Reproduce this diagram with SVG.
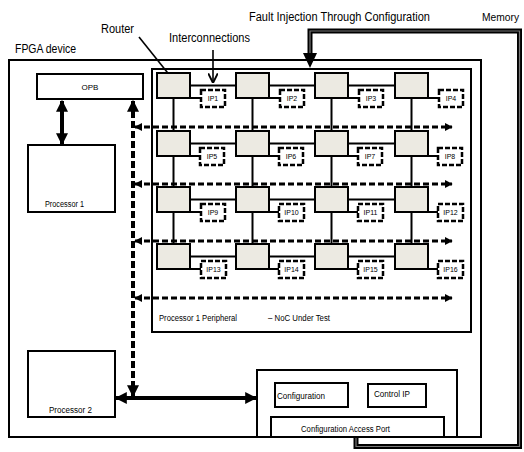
<svg xmlns="http://www.w3.org/2000/svg" width="524" height="452" viewBox="0 0 524 452">
<defs>
<style>
text{font-family:"Liberation Sans",Arial,sans-serif;fill:#000}
.box{fill:#fff;stroke:#000;stroke-width:2}
.rt{fill:#ECEAE2;stroke:#000;stroke-width:2}
.ip{fill:#fff;stroke:#000;stroke-width:2.5;stroke-dasharray:5 2}
.ipt{font-size:7px;text-anchor:middle;fill:#000}
.wire{stroke:#000;stroke-width:2;fill:none}
.thick{stroke:#000;stroke-width:4;fill:none}
.dash{stroke:#000;stroke-width:3;stroke-dasharray:6 3;fill:none}
.vdash{stroke:#000;stroke-width:4;stroke-dasharray:7 3;fill:none}
.sm{font-size:8.5px}
</style>
<marker id="ah" viewBox="0 0 10 10" refX="9" refY="5" markerWidth="3" markerHeight="3" orient="auto-start-reverse" markerUnits="strokeWidth"><path d="M0,0 L10,5 L0,10 z" fill="#000"/></marker>
<marker id="ahd" viewBox="0 0 10 10" refX="9" refY="5" markerWidth="2.6" markerHeight="2.6" orient="auto-start-reverse" markerUnits="strokeWidth"><path d="M0,0 L10,5 L0,10 z" fill="#000"/></marker>
<marker id="ahthin" viewBox="0 0 10 10" refX="9" refY="5" markerWidth="6" markerHeight="6" orient="auto" markerUnits="strokeWidth"><path d="M0,0 L10,5 L0,10" fill="none" stroke="#000" stroke-width="2"/></marker>
</defs>
<rect width="524" height="452" fill="#fff"/>

<!-- titles -->
<text x="15" y="53" font-size="13" textLength="61" lengthAdjust="spacingAndGlyphs">FPGA device</text>
<text x="101" y="33" font-size="12" textLength="33" lengthAdjust="spacingAndGlyphs">Router</text>
<text x="169" y="42" font-size="12" textLength="81" lengthAdjust="spacingAndGlyphs">Interconnections</text>
<text x="249" y="21" font-size="12" textLength="181" lengthAdjust="spacingAndGlyphs">Fault Injection Through Configuration</text>
<text x="482" y="21" font-size="11.5" textLength="37" lengthAdjust="spacingAndGlyphs">Memory</text>

<!-- FPGA device -->
<g id="fpga"><rect x="9" y="60" width="472" height="377" class="box"/></g>
<!-- NoC box -->
<g id="noc"><rect x="152" y="69" width="319" height="263" class="box" stroke-width="1.8"/>
<text x="159" y="321" class="sm" textLength="78" lengthAdjust="spacingAndGlyphs">Processor 1 Peripheral</text>
<text x="268" y="321" class="sm" textLength="62" lengthAdjust="spacingAndGlyphs">– NoC Under Test</text>
</g>

<g id="connectors">
<!-- router mesh -->
<line x1="190" y1="85.5" x2="395" y2="85.5" class="wire"/>
<line x1="190" y1="143.5" x2="395" y2="143.5" class="wire"/>
<line x1="190" y1="199.5" x2="395" y2="199.5" class="wire"/>
<line x1="190" y1="256.5" x2="395" y2="256.5" class="wire"/>
<line x1="173.5" y1="98" x2="173.5" y2="244" class="wire"/>
<line x1="252.5" y1="98" x2="252.5" y2="244" class="wire"/>
<line x1="331.5" y1="98" x2="331.5" y2="244" class="wire"/>
<line x1="411.5" y1="98" x2="411.5" y2="244" class="wire"/>
<!-- router-IP links -->
<path class="wire" d="M190,98H201 M269,98H280 M348,98H359 M428,98H439 M190,156H201 M269,156H280 M348,156H359 M428,156H439 M190,212H201 M269,212H280 M348,212H359 M428,212H439 M190,269H201 M269,269H280 M348,269H359 M428,269H439"/>
<!-- dashed buses -->
<line x1="135" y1="127" x2="452" y2="127" class="dash" marker-start="url(#ahd)" marker-end="url(#ahd)"/>
<line x1="135" y1="184" x2="452" y2="184" class="dash" marker-start="url(#ahd)" marker-end="url(#ahd)"/>
<line x1="135" y1="241" x2="452" y2="241" class="dash" marker-start="url(#ahd)" marker-end="url(#ahd)"/>
<line x1="135" y1="298" x2="452" y2="298" class="dash" marker-start="url(#ahd)" marker-end="url(#ahd)"/>
<line x1="133" y1="101" x2="133" y2="396" class="vdash" marker-start="url(#ah)" marker-end="url(#ah)"/>
<!-- OPB - Processor 1 -->
<line x1="62" y1="101" x2="62" y2="144" class="thick" marker-start="url(#ah)" marker-end="url(#ah)"/>
<!-- Processor 2 - Config -->
<line x1="116" y1="398" x2="256" y2="398" class="thick" marker-start="url(#ah)" marker-end="url(#ah)"/>
<!-- annotation arrows -->
<line x1="139" y1="37" x2="175" y2="82" stroke="#000" stroke-width="1.6" marker-end="url(#ahthin)"/>
<line x1="213" y1="50" x2="213" y2="82" stroke="#000" stroke-width="1.6" marker-end="url(#ahthin)"/>
<!-- memory loop -->
<path d="M356,437 V446.5 H519.5 V31 H310 V56" fill="none" stroke="#000" stroke-width="5"/>
<path d="M356,437 V446.5 H519.5 V31 H310 V56" fill="none" stroke="#777" stroke-width="1.2"/>
<path d="M303,53 L317,53 L310,68 z" fill="#000"/>
</g>

<g id="opb"><rect x="37" y="74" width="106" height="25" class="box"/><text x="90" y="90" font-size="8" text-anchor="middle">OPB</text></g>
<g id="processor1"><rect x="28" y="145" width="87" height="67" class="box"/><text x="45" y="207" class="sm" textLength="39" lengthAdjust="spacingAndGlyphs">Processor 1</text></g>
<g id="processor2"><rect x="28" y="351" width="87" height="66" class="box"/><text x="49" y="413" class="sm" textLength="43" lengthAdjust="spacingAndGlyphs">Processor 2</text></g>

<g id="config-region"><rect x="257" y="370" width="200" height="67" class="box" stroke-width="1.8"/></g>
<g id="configuration"><rect x="275" y="383" width="73" height="24" class="box"/><text x="277" y="399" class="sm" textLength="48" lengthAdjust="spacingAndGlyphs">Configuration</text></g>
<g id="control-ip"><rect x="368" y="384" width="58" height="23" class="box"/><text x="374" y="397" class="sm" textLength="36" lengthAdjust="spacingAndGlyphs">Control IP</text></g>
<g id="cap"><rect x="271" y="417" width="173" height="20" class="box"/><text x="301" y="432" class="sm" textLength="89" lengthAdjust="spacingAndGlyphs">Configuration Access Port</text></g>

<!-- routers -->
<g id="r1"><rect x="157" y="73" width="33" height="25" class="rt"/></g>
<g id="r2"><rect x="236" y="73" width="33" height="25" class="rt"/></g>
<g id="r3"><rect x="315" y="73" width="33" height="25" class="rt"/></g>
<g id="r4"><rect x="395" y="73" width="33" height="25" class="rt"/></g>
<g id="r5"><rect x="157" y="131" width="33" height="25" class="rt"/></g>
<g id="r6"><rect x="236" y="131" width="33" height="25" class="rt"/></g>
<g id="r7"><rect x="315" y="131" width="33" height="25" class="rt"/></g>
<g id="r8"><rect x="395" y="131" width="33" height="25" class="rt"/></g>
<g id="r9"><rect x="157" y="187" width="33" height="25" class="rt"/></g>
<g id="r10"><rect x="236" y="187" width="33" height="25" class="rt"/></g>
<g id="r11"><rect x="315" y="187" width="33" height="25" class="rt"/></g>
<g id="r12"><rect x="395" y="187" width="33" height="25" class="rt"/></g>
<g id="r13"><rect x="157" y="244" width="33" height="25" class="rt"/></g>
<g id="r14"><rect x="236" y="244" width="33" height="25" class="rt"/></g>
<g id="r15"><rect x="315" y="244" width="33" height="25" class="rt"/></g>
<g id="r16"><rect x="395" y="244" width="33" height="25" class="rt"/></g>

<!-- IPs -->
<g id="ip1"><rect x="201" y="90" width="24" height="17" class="ip"/><text x="213" y="101" class="ipt">IP1</text></g>
<g id="ip2"><rect x="280" y="90" width="24" height="17" class="ip"/><text x="292" y="101" class="ipt">IP2</text></g>
<g id="ip3"><rect x="359" y="90" width="24" height="17" class="ip"/><text x="371" y="101" class="ipt">IP3</text></g>
<g id="ip4"><rect x="439" y="90" width="24" height="17" class="ip"/><text x="451" y="101" class="ipt">IP4</text></g>
<g id="ip5"><rect x="200" y="148" width="24" height="17" class="ip"/><text x="212" y="159" class="ipt">IP5</text></g>
<g id="ip6"><rect x="279" y="148" width="24" height="17" class="ip"/><text x="291" y="159" class="ipt">IP6</text></g>
<g id="ip7"><rect x="358" y="148" width="24" height="17" class="ip"/><text x="370" y="159" class="ipt">IP7</text></g>
<g id="ip8"><rect x="438" y="148" width="24" height="17" class="ip"/><text x="450" y="159" class="ipt">IP8</text></g>
<g id="ip9"><rect x="201" y="204" width="24" height="17" class="ip"/><text x="213" y="215" class="ipt">IP9</text></g>
<g id="ip10"><rect x="279" y="204" width="25" height="17" class="ip"/><text x="291.5" y="215" class="ipt">IP10</text></g>
<g id="ip11"><rect x="358" y="204" width="25" height="17" class="ip"/><text x="370.5" y="215" class="ipt">IP11</text></g>
<g id="ip12"><rect x="438" y="204" width="25" height="17" class="ip"/><text x="450.5" y="215" class="ipt">IP12</text></g>
<g id="ip13"><rect x="201" y="261" width="25" height="17" class="ip"/><text x="213.5" y="272" class="ipt">IP13</text></g>
<g id="ip14"><rect x="279" y="261" width="25" height="17" class="ip"/><text x="291.5" y="272" class="ipt">IP14</text></g>
<g id="ip15"><rect x="358" y="261" width="25" height="17" class="ip"/><text x="370.5" y="272" class="ipt">IP15</text></g>
<g id="ip16"><rect x="438" y="261" width="25" height="17" class="ip"/><text x="450.5" y="272" class="ipt">IP16</text></g>
</svg>
